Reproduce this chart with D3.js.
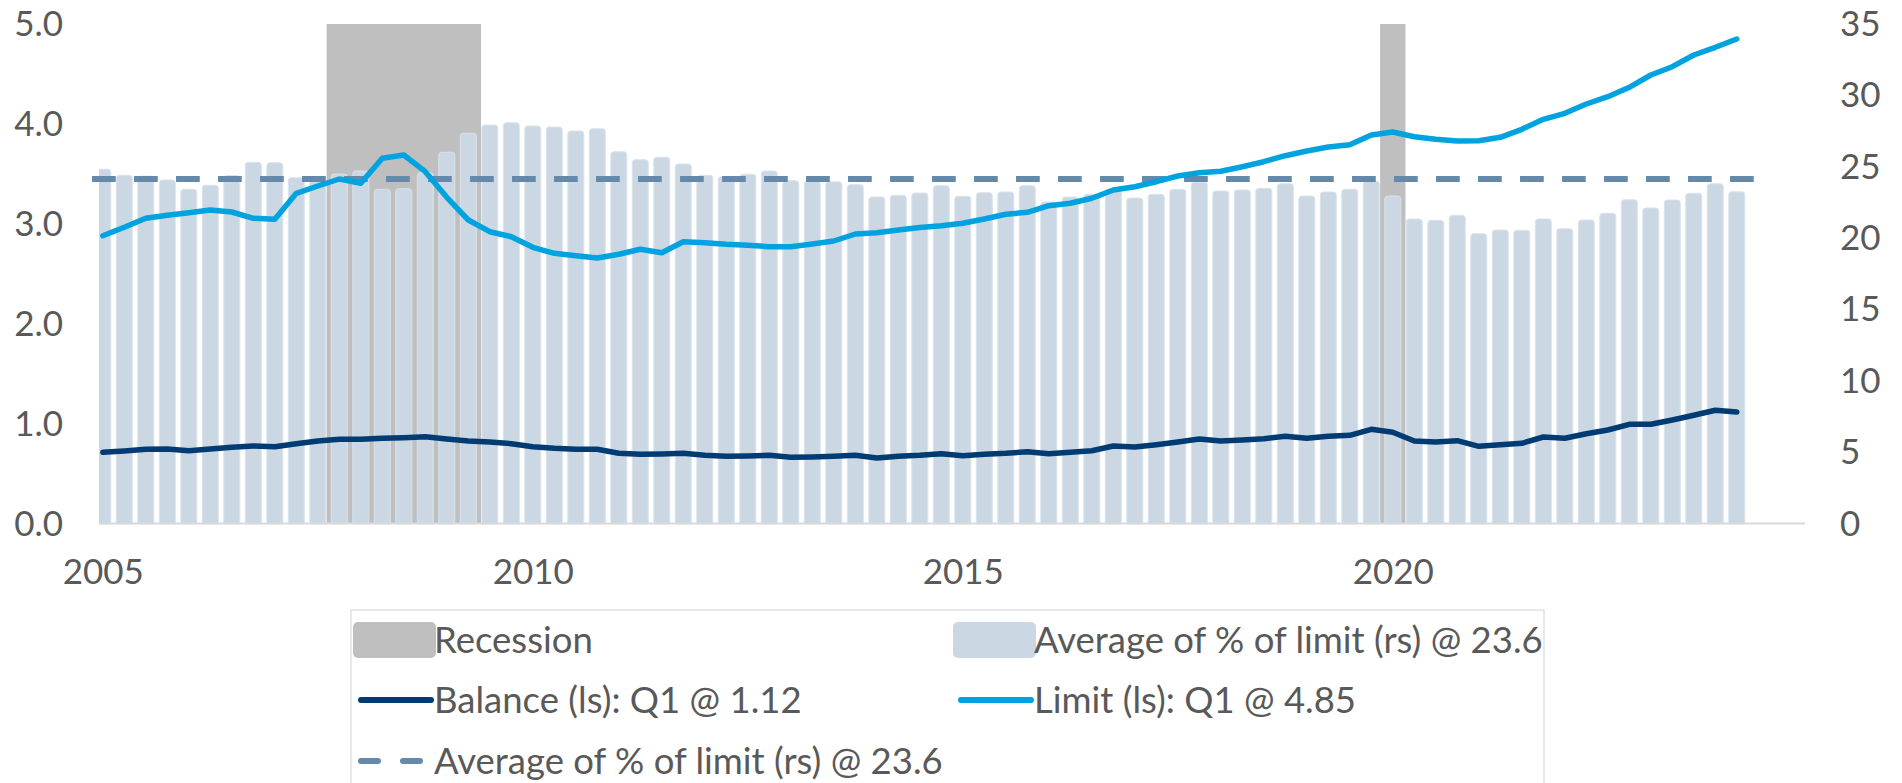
<!DOCTYPE html>
<html>
<head>
<meta charset="utf-8">
<script src="https://cdn.jsdelivr.net/npm/d3@7"></script>
<style>
  html, body { margin: 0; padding: 0; background: #fff; }
  svg { display: block; }
  text { font-family: Lato, "Open Sans", sans-serif; fill: #595959; }
</style>
</head>
<body>
<svg id="chart" width="1902" height="783"></svg>
<script>
// ---------------- data ----------------
const years = d3.range(2005, 2025);
const quarters = [];
years.forEach(y => [1, 2, 3, 4].forEach(q => { if (!(y === 2024 && q > 1)) quarters.push(y + "Q" + q); }));

// Average of % of limit (right scale), quarterly
const pctOfLimit = [
  24.83, 24.41, 24.35, 24.08, 23.43, 23.71, 24.40, 25.32, 25.29, 24.24,
  24.30, 24.50, 24.71, 23.43, 23.47, 24.60, 26.02, 27.35, 27.93, 28.09,
  27.86, 27.79, 27.51, 27.67, 26.06, 25.50, 25.67, 25.20, 24.41, 24.31,
  24.48, 24.71, 24.03, 24.01, 23.96, 23.75, 22.89, 23.01, 23.17, 23.68,
  22.94, 23.19, 23.24, 23.68, 22.54, 22.89, 23.08, 23.43, 22.82, 23.08,
  23.43, 23.92, 23.31, 23.38, 23.50, 23.82, 22.96, 23.24, 23.43, 23.99,
  22.96, 21.35, 21.26, 21.61, 20.32, 20.58, 20.56, 21.35, 20.67, 21.28,
  21.75, 22.70, 22.12, 22.68, 23.15, 23.82, 23.26
];

// Balance (left scale)
const balance = [
  0.717, 0.730, 0.747, 0.750, 0.733, 0.750, 0.767, 0.780, 0.773, 0.803,
  0.830, 0.847, 0.847, 0.857, 0.863, 0.873, 0.850, 0.830, 0.820, 0.803,
  0.773, 0.757, 0.747, 0.747, 0.707, 0.697, 0.700, 0.707, 0.687, 0.677,
  0.680, 0.687, 0.667, 0.670, 0.677, 0.687, 0.660, 0.677, 0.687, 0.703,
  0.683, 0.697, 0.707, 0.723, 0.703, 0.717, 0.733, 0.780, 0.770, 0.793,
  0.820, 0.850, 0.830, 0.840, 0.853, 0.877, 0.857, 0.877, 0.887, 0.947,
  0.917, 0.830, 0.820, 0.833, 0.777, 0.793, 0.807, 0.870, 0.857, 0.903,
  0.940, 0.997, 0.997, 1.040, 1.087, 1.137, 1.120
];

// Limit (left scale)
const limit = [
  2.883, 2.967, 3.057, 3.087, 3.113, 3.140, 3.120, 3.057, 3.047, 3.307,
  3.380, 3.450, 3.407, 3.657, 3.690, 3.523, 3.267, 3.040, 2.923, 2.873,
  2.767, 2.707, 2.683, 2.660, 2.697, 2.747, 2.713, 2.823, 2.813, 2.797,
  2.787, 2.773, 2.773, 2.800, 2.830, 2.900, 2.913, 2.940, 2.965, 2.983,
  3.007, 3.050, 3.097, 3.117, 3.183, 3.207, 3.257, 3.340, 3.373, 3.423,
  3.480, 3.513, 3.527, 3.573, 3.623, 3.683, 3.730, 3.770, 3.793, 3.890,
  3.920, 3.873, 3.847, 3.830, 3.833, 3.867, 3.947, 4.047, 4.107, 4.200,
  4.273, 4.367, 4.490, 4.573, 4.690, 4.767, 4.850
];

// Average line (right scale)
const averagePct = 24.15;

// Recession periods (quarters)
const recessions = [["2007Q4", "2009Q2"], ["2020Q1", "2020Q1"]];

// Axis ticks
const leftTicks = [0, 1, 2, 3, 4, 5];
const rightTicks = [0, 5, 10, 15, 20, 25, 30, 35];
const yearTicks = ["2005Q1", "2010Q1", "2015Q1", "2020Q1"];

// Legend
const legendItems = [
  { label: "Recession", type: "rect", color: "#bfbfbf", col: 0, row: 0 },
  { label: "Average of % of limit (rs) @ 23.6", type: "rect", color: "#cbd8e3", col: 1, row: 0 },
  { label: "Balance (ls): Q1 @ 1.12", type: "line", color: "#003b73", col: 0, row: 1 },
  { label: "Limit (ls): Q1 @ 4.85", type: "line", color: "#00a3e0", col: 1, row: 1 },
  { label: "Average of % of limit (rs) @ 23.6", type: "dash", color: "#6589ab", col: 0, row: 2 }
];

// ---------------- layout ----------------
const svg = d3.select("#chart");
const plot = { left: 99, right: 1805, top: 24, bottom: 524 };

const x = d3.scaleLinear().domain([0, quarters.length - 1]).range([102.8, 1736.8]);
const step = x(1) - x(0);
const yL = d3.scaleLinear().domain([0, 5]).range([plot.bottom, plot.top]);
const yR = d3.scaleLinear().domain([0, 35]).range([plot.bottom, plot.top]);
const qi = q => quarters.indexOf(q);

svg.append("defs").append("clipPath").attr("id", "plotclip")
  .append("rect").attr("x", plot.left).attr("y", 0)
  .attr("width", plot.right - plot.left).attr("height", plot.bottom + 2);

const g = svg.append("g").attr("clip-path", "url(#plotclip)");

// recession shading
g.selectAll("rect.rec").data(recessions).join("rect")
  .attr("class", "rec")
  .attr("x", d => x(qi(d[0])) - step * 0.59)
  .attr("width", d => x(qi(d[1])) - x(qi(d[0])) + step * 1.18)
  .attr("y", yL(5))
  .attr("height", yL(0) - yL(5))
  .attr("fill", "#bfbfbf");

// bars with rounded tops
const bw = step * 0.744, r = 3;
g.selectAll("path.bar").data(pctOfLimit).join("path")
  .attr("class", "bar")
  .attr("d", (v, i) => {
    const x0 = x(i) - bw / 2, x1 = x(i) + bw / 2, yt = yR(v), yb = yR(0);
    return `M${x0},${yb}V${yt + r}Q${x0},${yt} ${x0 + r},${yt}H${x1 - r}Q${x1},${yt} ${x1},${yt + r}V${yb}Z`;
  })
  .attr("fill", "#cbd8e3")
  .attr("stroke", "#dae3eb")
  .attr("stroke-width", 1);

// baseline
svg.append("line")
  .attr("x1", plot.left).attr("x2", plot.right)
  .attr("y1", yL(0) - 0.5).attr("y2", yL(0) - 0.5)
  .attr("stroke", "#d9d9d9").attr("stroke-width", 2);

// average dashed line
svg.append("line")
  .attr("x1", x(0) - step / 2).attr("x2", x(quarters.length - 1) + step * 0.8)
  .attr("y1", yR(averagePct)).attr("y2", yR(averagePct))
  .attr("stroke", "#6589ab").attr("stroke-width", 6)
  .attr("stroke-dasharray", "23.7,18.3");

// lines
const lineL = d3.line().x((d, i) => x(i)).y(d => yL(d));
svg.append("path").datum(limit)
  .attr("d", lineL).attr("fill", "none")
  .attr("stroke", "#00a3e0").attr("stroke-width", 5.5)
  .attr("stroke-linejoin", "round").attr("stroke-linecap", "round");
svg.append("path").datum(balance)
  .attr("d", lineL).attr("fill", "none")
  .attr("stroke", "#003b73").attr("stroke-width", 5.5)
  .attr("stroke-linejoin", "round").attr("stroke-linecap", "round");

// axes
const fs = "35px";
const axL = svg.append("g").attr("transform", `translate(${plot.left},0)`)
  .call(d3.axisLeft(yL).tickValues(leftTicks).tickFormat(d3.format(".1f")).tickSize(0).tickPadding(36));
const axR = svg.append("g").attr("transform", `translate(${plot.right},0)`)
  .call(d3.axisRight(yR).tickValues(rightTicks).tickFormat(d3.format("d")).tickSize(0).tickPadding(35));
const axB = svg.append("g").attr("transform", `translate(0,${plot.bottom})`)
  .call(d3.axisBottom(x).tickValues(yearTicks.map(qi)).tickFormat(i => quarters[i].slice(0, 4)).tickSize(0).tickPadding(35));
[axL, axR, axB].forEach(a => {
  a.select(".domain").remove();
  a.selectAll("text").style("font-family", "Lato, sans-serif").style("font-size", fs).attr("fill", "#595959");
});

// legend
const lg = svg.append("g");
lg.append("rect").attr("x", 351).attr("y", 610).attr("width", 1193).attr("height", 200)
  .attr("fill", "#fff").attr("stroke", "#d9d9d9").attr("stroke-width", 1.2);
const colX = [353, 953], rowY = [640, 700, 761], textDX = 81;
legendItems.forEach(it => {
  const sx = colX[it.col], cy = rowY[it.row];
  if (it.type === "rect") {
    lg.append("rect").attr("x", sx).attr("y", cy - 18).attr("width", 83).attr("height", 36)
      .attr("rx", 5).attr("fill", it.color);
  } else if (it.type === "line") {
    lg.append("line").attr("x1", sx + 8).attr("x2", sx + 78).attr("y1", cy).attr("y2", cy)
      .attr("stroke", it.color).attr("stroke-width", 6).attr("stroke-linecap", "round");
  } else {
    lg.append("line").attr("x1", sx + 8).attr("x2", sx + 72).attr("y1", cy).attr("y2", cy)
      .attr("stroke", it.color).attr("stroke-width", 6).attr("stroke-linecap", "round")
      .attr("stroke-dasharray", "17,25");
  }
  lg.append("text").attr("x", sx + textDX).attr("y", cy + 13)
    .style("font-size", "36.5px").text(it.label);
});
</script>
</body>
</html>
